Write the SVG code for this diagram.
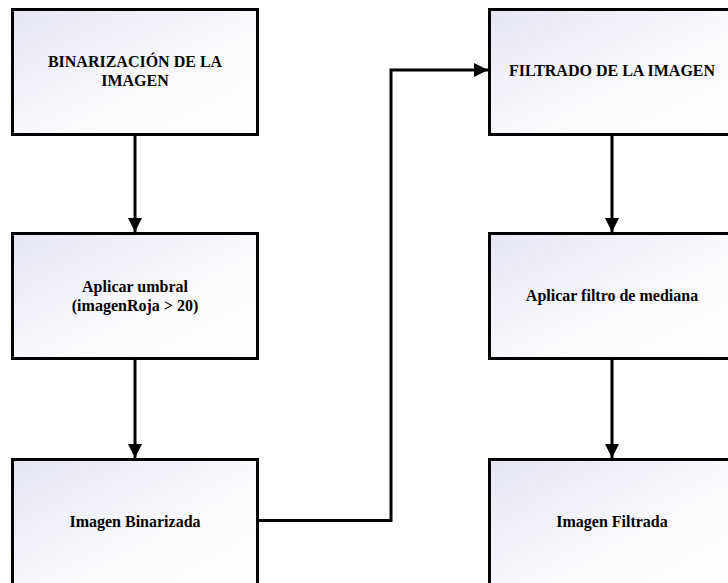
<svg xmlns="http://www.w3.org/2000/svg" width="728" height="583" viewBox="0 0 728 583">
<defs>
<linearGradient id="g" x1="0" y1="0" x2="1" y2="1">
<stop offset="0" stop-color="#e4e6f3"/>
<stop offset="0.6" stop-color="#fbfbfe"/>
<stop offset="1" stop-color="#ffffff"/>
</linearGradient>
<marker id="ah" viewBox="0 0 14 14" refX="14" refY="7" markerWidth="14" markerHeight="14" markerUnits="userSpaceOnUse" orient="auto">
<path d="M0,0 L14,7 L0,14 Z" fill="#000"/>
</marker>
<style>
.box{fill:url(#g);stroke:#000;stroke-width:3}
.t{font-family:"Liberation Serif","Times New Roman",serif;font-weight:bold;font-size:16px;fill:#000;text-anchor:middle}
.c{fill:none;stroke:#000;stroke-width:3}
</style>
</defs>
<rect width="728" height="583" fill="#fff"/>
<g id="connectors">
<line class="c" x1="135" y1="135" x2="135" y2="232" marker-end="url(#ah)"/>
<line class="c" x1="135" y1="359" x2="135" y2="458" marker-end="url(#ah)"/>
<polyline class="c" points="258,520.5 391,520.5 391,70 488,70" marker-end="url(#ah)"/>
<line class="c" x1="612" y1="135" x2="612" y2="232" marker-end="url(#ah)"/>
<line class="c" x1="612" y1="359" x2="612" y2="458" marker-end="url(#ah)"/>
</g>
<g id="n1">
<rect class="box" x="12.5" y="9.5" width="245" height="125"/>
<text class="t" x="135" y="67">BINARIZACIÓN DE LA</text>
<text class="t" x="135" y="86">IMAGEN</text>
</g>
<g id="n2">
<rect class="box" x="12.5" y="233.5" width="245" height="125"/>
<text class="t" x="135" y="292">Aplicar umbral</text>
<text class="t" x="135" y="311">(imagenRoja &gt; 20)</text>
</g>
<g id="n3">
<rect class="box" x="12.5" y="459.5" width="245" height="135"/>
<text class="t" x="135" y="527">Imagen Binarizada</text>
</g>
<g id="n4">
<rect class="box" x="489.5" y="9.5" width="245" height="125"/>
<text class="t" x="612" y="76">FILTRADO DE LA IMAGEN</text>
</g>
<g id="n5">
<rect class="box" x="489.5" y="233.5" width="245" height="125"/>
<text class="t" x="612" y="301">Aplicar filtro de mediana</text>
</g>
<g id="n6">
<rect class="box" x="489.5" y="459.5" width="245" height="135"/>
<text class="t" x="612" y="527">Imagen Filtrada</text>
</g>
</svg>
